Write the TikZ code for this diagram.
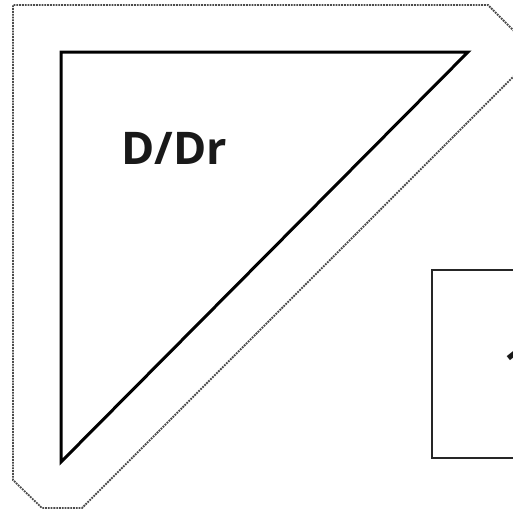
\documentclass[tikz,border=0pt]{standalone}
\usepackage{fontspec}
\setmainfont{Open Sans}
\begin{document}
\begin{tikzpicture}[x=1pt,y=-1pt,
  outline/.style={draw=black!70, densely dotted, line width=1.8pt},
  tri/.style={draw=black, line width=3pt, line join=miter},
  boxline/.style={draw=black!85, line width=2pt},
  lbl/.style={font=\fontsize{45}{50}\selectfont\bfseries, text=black!90, inner sep=0pt}]
\useasboundingbox (0,0) rectangle (513,512);
\clip (0,0) rectangle (513,512);
\draw[outline] (530,47) -- (488,5) -- (13,5) -- (13,480) -- (42,508) -- (82,508) -- (600,-10);
\draw[tri] (61,52) -- (468,52) -- (61,462) -- cycle;
\node[lbl, anchor=west] (t) at (121,148) {D/Dr};
\draw[boxline] (620,270) -- (432,270) -- (432,458) -- (620,458);
\node[lbl, anchor=west] (one) at (504,364) {1};
\end{tikzpicture}
\end{document}
